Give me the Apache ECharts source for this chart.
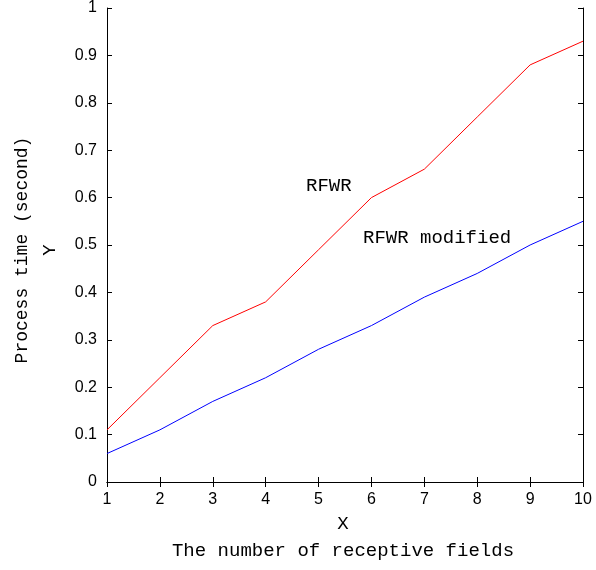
<!DOCTYPE html>
<html>
<head>
<meta charset="utf-8">
<script src="https://cdn.jsdelivr.net/npm/echarts@6/dist/echarts.min.js"></script>
<style>
  html, body { margin: 0; padding: 0; background: #fff; }
  #main { width: 596px; height: 570px; }
</style>
</head>
<body>
<div id="main"></div>
<script>
var chart = echarts.init(document.getElementById('main'));

// data
var fields = [1, 2, 3, 4, 5, 6, 7, 8, 9, 10];
var rfwr = [0.11, 0.22, 0.33, 0.38, 0.49, 0.60, 0.66, 0.77, 0.88, 0.93];
var rfwrModified = [0.06, 0.11, 0.17, 0.22, 0.28, 0.33, 0.39, 0.44, 0.50, 0.55];

function pairs(xs, ys) {
  return xs.map(function (x, i) { return [x, ys[i]]; });
}

var monoFont = '"Liberation Mono", "DejaVu Sans Mono", monospace';
var tickFont = {color: '#000', fontSize: 16, fontFamily: '"Liberation Sans", Arial, sans-serif'};

// shared axis look: black line, ticks pointing inward
function axisBase(extra) {
  var a = {
    type: 'value',
    axisLine: {show: true, lineStyle: {color: '#000', width: 1}},
    axisTick: {show: true, inside: true, length: 5, lineStyle: {color: '#000'}},
    splitLine: {show: false}
  };
  for (var k in extra) a[k] = extra[k];
  return a;
}

var option = {
  animation: false,
  grid: {left: 107, top: 8, width: 476, height: 474, containLabel: false},
  xAxis: [
    axisBase({min: 1, max: 10, interval: 1, position: 'bottom',
      axisLabel: Object.assign({margin: 10}, tickFont)}),
    axisBase({min: 1, max: 10, interval: 1, position: 'top', axisLabel: {show: false}})
  ],
  yAxis: [
    axisBase({min: 0, max: 1, interval: 0.1, position: 'left',
      axisLabel: Object.assign({margin: 10}, tickFont)}),
    axisBase({min: 0, max: 1, interval: 0.1, position: 'right', axisLabel: {show: false}})
  ],
  series: [
    {
      name: 'RFWR',
      type: 'line',
      symbol: 'none',
      lineStyle: {color: '#ff0000', width: 1},
      data: pairs(fields, rfwr)
    },
    {
      name: 'RFWR modified',
      type: 'line',
      symbol: 'none',
      lineStyle: {color: '#0000ff', width: 1},
      data: pairs(fields, rfwrModified)
    }
  ],
  graphic: [
    {type: 'text', left: 306, top: 176, style: {text: 'RFWR', fontSize: 19, fontFamily: monoFont, fill: '#000'}},
    {type: 'text', left: 363, top: 228, style: {text: 'RFWR modified', fontSize: 19, fontFamily: monoFont, fill: '#000'}},
    {type: 'text', x: 343, y: 524, style: {text: 'X', fontSize: 19, fontFamily: monoFont, fill: '#000', align: 'center', verticalAlign: 'middle'}},
    {type: 'text', x: 343, y: 551, style: {text: 'The number of receptive fields', fontSize: 19, fontFamily: monoFont, fill: '#000', align: 'center', verticalAlign: 'middle'}},
    {type: 'text', x: 22, y: 250, rotation: Math.PI / 2, style: {text: 'Process time (second)', fontSize: 18, fontFamily: monoFont, fill: '#000', align: 'center', verticalAlign: 'middle'}},
    {type: 'text', x: 50, y: 250, rotation: Math.PI / 2, style: {text: 'Y', fontSize: 19, fontFamily: monoFont, fill: '#000', align: 'center', verticalAlign: 'middle'}}
  ]
};

chart.setOption(option);
</script>
</body>
</html>
